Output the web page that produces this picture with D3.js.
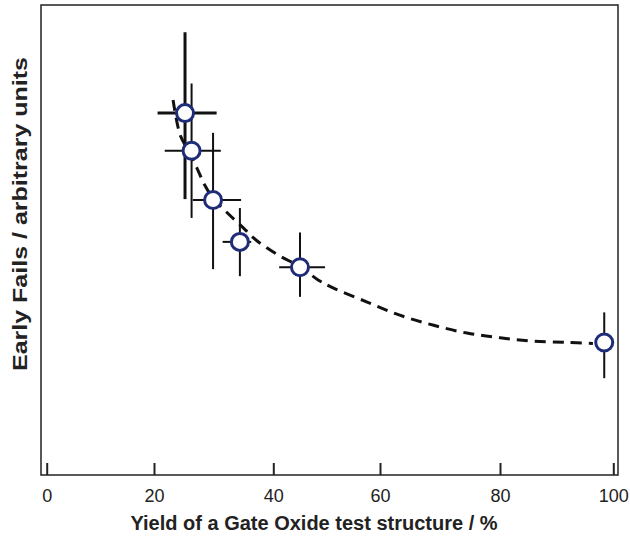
<!DOCTYPE html>
<html>
<head>
<meta charset="utf-8">
<script src="https://cdn.jsdelivr.net/npm/d3@7"></script>
<style>
  body { margin: 0; background: #fff; }
  svg { display: block; }
  .axis text { font-family: "Liberation Sans", Arial, sans-serif; font-size: 18px; fill: #222; }
  .title { font-family: "Liberation Sans", Arial, sans-serif; font-weight: bold; font-size: 20px; fill: #222; }
</style>
</head>
<body>
<div id="chart"></div>
<script>
// measured points: yield (%) vs early fails (arbitrary units)
var yieldPct  = [ 25.2, 26.3, 29.9, 34.4, 45.0, 98.4 ],
    earlyFail = [ 77.0, 69.0, 58.5, 49.6, 44.2, 28.2 ];

// error bar extents
var xLow  = [ 20.6, 21.8, 26.5, 31.5, 41.1, null ],
    xHigh = [ 30.5, 31.2, 34.6, 36.3, 49.7, null ],
    yLow  = [ 58.7, 54.7, 43.8, 42.3, 37.9, 20.6 ],
    yHigh = [ 94.2, 83.3, 72.8, 56.8, 51.6, 34.6 ];

// fitted trend (dashed)
var fitX = [ 23.2, 24.4, 25.9, 27.2, 28.5, 29.9, 32.1, 34.8, 37.1, 40.9, 45.0, 48.4,
             51.2, 57.6, 63.3, 68.8, 74.5, 80.0, 85.8, 91.8, 96.4 ],
    fitY = [ 79.8, 72.3, 68.7, 65.3, 61.7, 58.9, 56.0, 52.8, 50.0, 46.8, 44.3, 41.5,
             39.8, 36.8, 34.0, 31.9, 30.2, 29.2, 28.5, 28.2, 28.0 ];

var xTicks = [ 0, 20, 40, 60, 80, 100 ];

var W = 630, H = 541,
    box = { l: 41, t: 5, r: 618, b: 475 };

var svg = d3.select("#chart")
  .append("svg")
    .attr("width", W)
    .attr("height", H);

// the printed axis is not evenly spaced, so each decade gets its own segment
var scaleX = d3.scaleLinear()
      .domain(xTicks)
      .range([46.7, 154, 273.3, 380, 500, 613.3]),
    scaleY = d3.scaleLinear()
      .domain([0, 100])
      .range([box.b, box.t]);

// frame
svg.append("rect")
    .attr("x", box.l)
    .attr("y", box.t)
    .attr("width", box.r - box.l)
    .attr("height", box.b - box.t)
    .attr("fill", "none")
    .attr("stroke", "#222")
    .attr("stroke-width", 1.5);

var axisX = d3.axisBottom()
    .scale(scaleX)
    .tickValues(xTicks)
    .tickSizeInner(-12)
    .tickSizeOuter(0)
    .tickPadding(14);

svg.append("g")
    .attr("class", "axis")
    .attr("transform", "translate(0," + box.b + ")")
    .call(axisX)
  .call(function(g) { g.select(".domain").remove(); })
  .selectAll("line")
    .attr("stroke", "#222")
    .attr("stroke-width", 2);

// dashed fit line
var fitData = fitX.map(function(x, i) { return [x, fitY[i]]; });
var line = d3.line()
    .x(function(d) { return scaleX(d[0]); })
    .y(function(d) { return scaleY(d[1]); })
    .curve(d3.curveCatmullRom);

svg.append("path")
    .datum(fitData)
    .attr("d", line)
    .attr("fill", "none")
    .attr("stroke", "#111")
    .attr("stroke-width", 3)
    .attr("stroke-dasharray", "11,7");

var pts = yieldPct.map(function(x, i) {
  return { x: x, y: earlyFail[i], x0: xLow[i], x1: xHigh[i], y0: yLow[i], y1: yHigh[i], i: i };
});

var bars = svg.append("g").attr("class", "errorbars");

// the first point is drawn with heavier bars
bars.selectAll(".ey")
  .data(pts)
  .enter().append("line")
    .attr("x1", function(d) { return scaleX(d.x); })
    .attr("x2", function(d) { return scaleX(d.x); })
    .attr("y1", function(d) { return scaleY(d.y0); })
    .attr("y2", function(d) { return scaleY(d.y1); })
    .attr("stroke", "#111")
    .attr("stroke-width", function(d) { return d.i === 0 ? 3 : 2; });

bars.selectAll(".ex")
  .data(pts.filter(function(d) { return d.x0 !== null; }))
  .enter().append("line")
    .attr("x1", function(d) { return scaleX(d.x0); })
    .attr("x2", function(d) { return scaleX(d.x1); })
    .attr("y1", function(d) { return scaleY(d.y); })
    .attr("y2", function(d) { return scaleY(d.y); })
    .attr("stroke", "#111")
    .attr("stroke-width", function(d) { return d.i === 0 ? 3 : 2; });

svg.append("g")
  .selectAll("circle")
  .data(pts)
  .enter().append("circle")
    .attr("cx", function(d) { return scaleX(d.x); })
    .attr("cy", function(d) { return scaleY(d.y); })
    .attr("r", 8.5)
    .attr("fill", "#fff")
    .attr("stroke", "#1f2c78")
    .attr("stroke-width", 3);

// axis titles
svg.append("text")
    .attr("class", "title")
    .attr("x", 314)
    .attr("y", 530)
    .attr("text-anchor", "middle")
    .text("Yield of a Gate Oxide test structure / %");

svg.append("text")
    .attr("class", "title")
    .attr("transform", "translate(27,214) rotate(-90)")
    .attr("text-anchor", "middle")
    .attr("textLength", 314)
    .attr("lengthAdjust", "spacingAndGlyphs")
    .text("Early Fails / arbitrary units");
</script>
</body>
</html>
